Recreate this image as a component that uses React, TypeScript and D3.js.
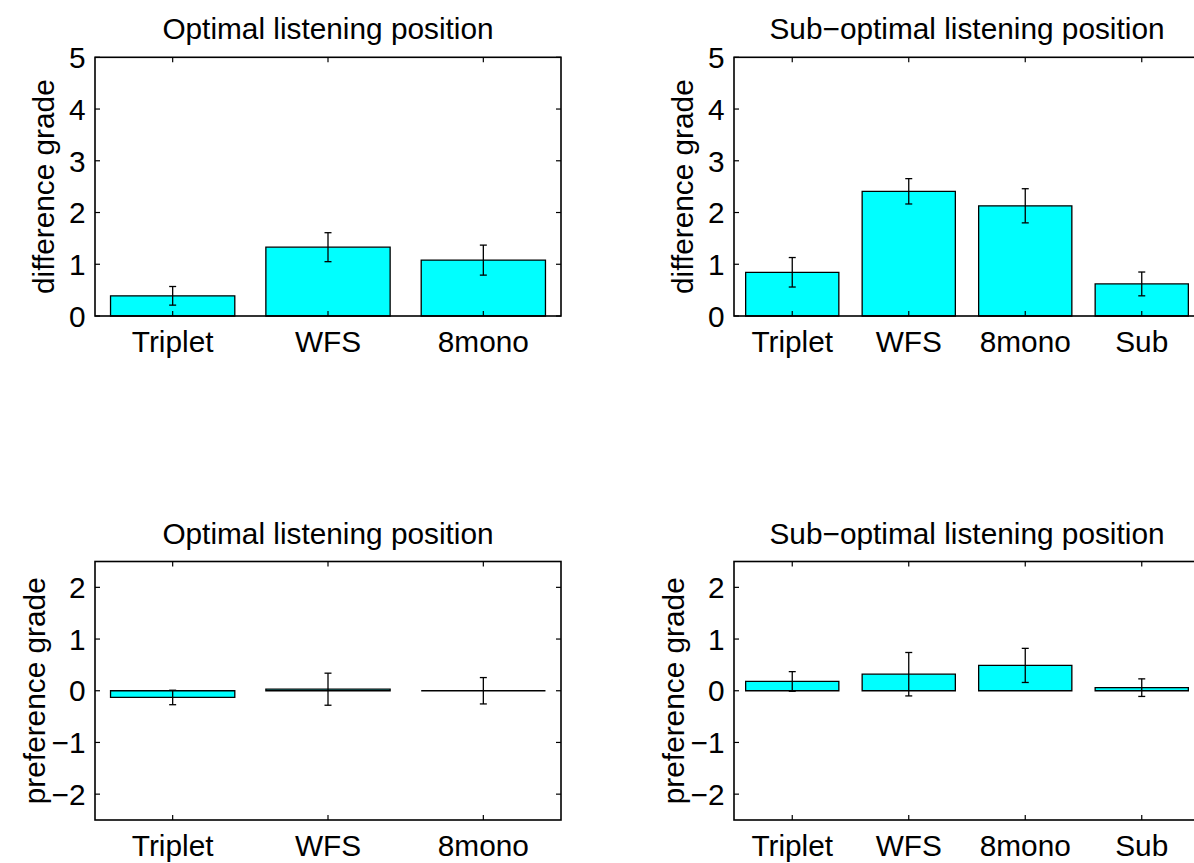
import React from "react";
import * as d3 from "d3";

const catsOpt = ["Triplet", "WFS", "8mono"];
const catsSub = ["Triplet", "WFS", "8mono", "Sub"];

const diffOpt = [0.39, 1.33, 1.08];
const diffOptErr = [0.18, 0.28, 0.29];
const diffSub = [0.845, 2.41, 2.13, 0.62];
const diffSubErr = [0.285, 0.245, 0.33, 0.23];

const prefOpt = [-0.13, 0.03, 0.0];
const prefOptErr = [0.14, 0.31, 0.255];
const prefSub = [0.18, 0.32, 0.49, 0.06];
const prefSubErr = [0.19, 0.42, 0.33, 0.17];

const diffTicks = [0, 1, 2, 3, 4, 5];
const prefTicks = [-2, -1, 0, 1, 2];

const titleOpt = "Optimal listening position";
const titleSub = "Sub\u2212optimal listening position";
const labelDiff = "difference grade";
const labelPref = "preference grade";

const FONT = "'Liberation Sans', Arial, Helvetica, sans-serif";
const FS = 29.8;

type PanelProps = {
  left: number;
  right: number;
  top: number;
  bottom: number;
  cats: string[];
  values: number[];
  errs: number[];
  yDomain: [number, number];
  yTicks: number[];
  title: string;
  ylabel: string;
  labelGap: number;
};

function fmt(v: number) {
  return v < 0 ? "\u2212" + Math.abs(v) : String(v);
}

function Panel(p: PanelProps) {
  const x = d3
    .scaleLinear()
    .domain([0.5, p.cats.length + 0.5])
    .range([p.left, p.right]);
  const y = d3.scaleLinear().domain(p.yDomain).range([p.bottom, p.top]);
  const bw = x(1.4) - x(0.6);
  const tick = 5;
  const cap = 3.5;
  const cx = (p.left + p.right) / 2;
  const cy = (p.top + p.bottom) / 2;
  return (
    <g>
      {p.values.map((v, i) => {
        const y0 = y(0);
        const y1 = y(v);
        const path = d3.path();
        const xl = x(i + 1) - bw / 2;
        const xr = x(i + 1) + bw / 2;
        path.moveTo(xl, y0);
        path.lineTo(xl, y1);
        path.lineTo(xr, y1);
        path.lineTo(xr, y0);
        path.closePath();
        return (
          <path
            key={"b" + i}
            d={path.toString()}
            fill="#00ffff"
            stroke="#000"
            strokeWidth={1.3}
          />
        );
      })}
      {p.values.map((v, i) => {
        const xc = x(i + 1);
        const yt = y(v + p.errs[i]);
        const yb = y(v - p.errs[i]);
        return (
          <g key={"e" + i} stroke="#000" strokeWidth={1.3}>
            <line x1={xc} x2={xc} y1={yt} y2={yb} />
            <line x1={xc - cap} x2={xc + cap} y1={yt} y2={yt} />
            <line x1={xc - cap} x2={xc + cap} y1={yb} y2={yb} />
          </g>
        );
      })}
      <rect
        x={p.left}
        y={p.top}
        width={p.right - p.left}
        height={p.bottom - p.top}
        fill="none"
        stroke="#000"
        strokeWidth={1.6}
      />
      {p.cats.map((c, i) => (
        <g key={"xt" + i} stroke="#000" strokeWidth={1.2}>
          <line x1={x(i + 1)} x2={x(i + 1)} y1={p.bottom} y2={p.bottom - tick} />
          <line x1={x(i + 1)} x2={x(i + 1)} y1={p.top} y2={p.top + tick} />
        </g>
      ))}
      {p.cats.map((c, i) => (
        <text
          key={"xl" + i}
          x={x(i + 1)}
          y={p.bottom + 36}
          textAnchor="middle"
          fontSize={FS}
          fontFamily={FONT}
          fill="#000"
        >
          {c}
        </text>
      ))}
      {p.yTicks.map((t) => (
        <g key={"yt" + t} stroke="#000" strokeWidth={1.2}>
          <line x1={p.left} x2={p.left + tick} y1={y(t)} y2={y(t)} />
          <line x1={p.right} x2={p.right - tick} y1={y(t)} y2={y(t)} />
        </g>
      ))}
      {p.yTicks.map((t) => (
        <text
          key={"yl" + t}
          x={p.left - 9.5}
          y={y(t)}
          dy="0.36em"
          textAnchor="end"
          fontSize={FS}
          fontFamily={FONT}
          fill="#000"
        >
          {fmt(t)}
        </text>
      ))}
      <text
        x={cx}
        y={p.top - 18}
        textAnchor="middle"
        fontSize={FS}
        fontFamily={FONT}
        fill="#000"
      >
        {p.title}
      </text>
      <text
        transform={`translate(${p.left - p.labelGap},${cy}) rotate(-90)`}
        textAnchor="middle"
        fontSize={FS}
        fontFamily={FONT}
        fill="#000"
      >
        {p.ylabel}
      </text>
    </g>
  );
}

export default function App() {
  return (
    <svg
      width={1194}
      height={863}
      style={{ position: "absolute", left: 0, top: 0, background: "#fff" }}
    >
      <rect x={0} y={0} width={1194} height={863} fill="#fff" />
      <Panel
        left={95}
        right={561}
        top={57.3}
        bottom={316}
        cats={catsOpt}
        values={diffOpt}
        errs={diffOptErr}
        yDomain={[0, 5]}
        yTicks={diffTicks}
        title={titleOpt}
        ylabel={labelDiff}
        labelGap={41}
      />
      <Panel
        left={734}
        right={1200}
        top={57.3}
        bottom={316}
        cats={catsSub}
        values={diffSub}
        errs={diffSubErr}
        yDomain={[0, 5]}
        yTicks={diffTicks}
        title={titleSub}
        ylabel={labelDiff}
        labelGap={41}
      />
      <Panel
        left={95}
        right={561}
        top={561.5}
        bottom={820}
        cats={catsOpt}
        values={prefOpt}
        errs={prefOptErr}
        yDomain={[-2.5, 2.5]}
        yTicks={prefTicks}
        title={titleOpt}
        ylabel={labelPref}
        labelGap={50}
      />
      <Panel
        left={734}
        right={1200}
        top={561.5}
        bottom={820}
        cats={catsSub}
        values={prefSub}
        errs={prefSubErr}
        yDomain={[-2.5, 2.5]}
        yTicks={prefTicks}
        title={titleSub}
        ylabel={labelPref}
        labelGap={50}
      />
    </svg>
  );
}
